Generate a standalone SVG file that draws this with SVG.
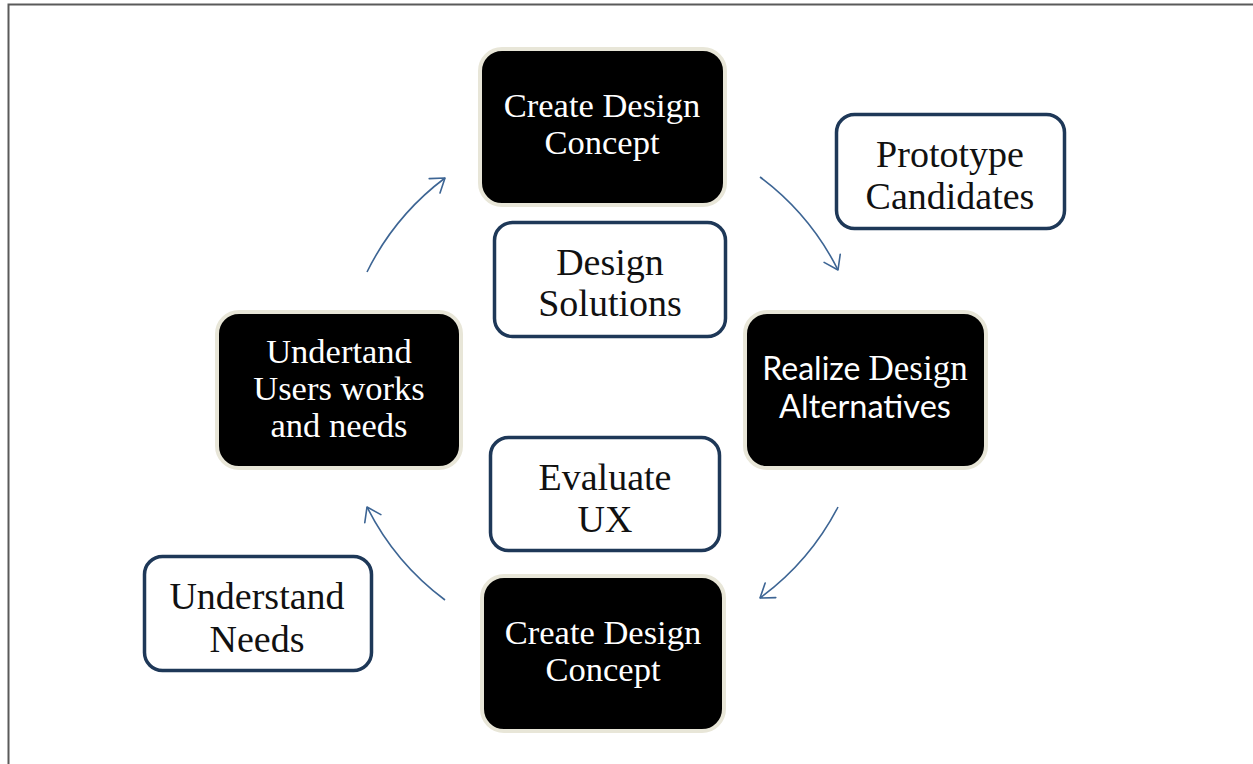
<svg xmlns="http://www.w3.org/2000/svg" width="1253" height="764" viewBox="0 0 1253 764">
  <style>
    .frame { stroke: #5a5a5a; stroke-width: 2; fill: none; }
    .step { fill: #000000; stroke: #e8e6d8; stroke-width: 4; }
    .note { fill: #ffffff; stroke: #1e3858; stroke-width: 3.5; }
    .serif { font-family: "Liberation Serif", "Times New Roman", serif; }
    .sans { font-family: Lato, "Liberation Sans", sans-serif; }
    .mid { text-anchor: middle; }
    .light { fill: #ffffff; }
    .dark { fill: #111111; }
    .big { font-size: 34.5px; }
    .flow { fill: none; stroke: #3d6594; stroke-width: 1.6; marker-end: url(#head); }
  </style>
  <defs>
    <marker id="head" markerUnits="userSpaceOnUse" markerWidth="30" markerHeight="30" refX="0" refY="0" viewBox="-20 -15 30 30" orient="auto" overflow="visible">
      <path d="M -13 -9 L 0 0 L -13 9" fill="none" stroke="#3d6594" stroke-width="1.6" stroke-linecap="round" stroke-linejoin="round"/>
    </marker>
  </defs>

  <rect width="1253" height="764" fill="#ffffff"/>
  <path class="frame" d="M 8.5 764 L 8.5 4.5 L 1253 4.5"/>

  <!-- cycle connectors: arcs of one circle around the centre -->
  <g id="connectors">
    <path class="flow" d="M 367 272 A 263 263 0 0 1 445 178"/>
    <path class="flow" d="M 760 177 A 263 263 0 0 1 838 270"/>
    <path class="flow" d="M 838 507 A 263 263 0 0 1 760 598"/>
    <path class="flow" d="M 445 600 A 263 263 0 0 1 367 507"/>
  </g>

  <g id="create-concept-top">
    <rect class="step" x="480" y="49" width="245" height="156" rx="22"/>
    <text class="serif light mid big" x="602" y="117">Create Design</text>
    <text class="serif light mid big" x="602" y="154">Concept</text>
  </g>

  <g id="realize-alternatives">
    <rect class="step" x="745" y="312" width="241" height="156" rx="22"/>
    <text class="light mid" font-size="32" x="865" y="380"><tspan class="sans">Realize </tspan><tspan class="serif" font-size="35">Design</tspan></text>
    <text class="sans light mid" font-size="32.5" x="865" y="418">Alternatives</text>
  </g>

  <g id="understand-users">
    <rect class="step" x="217" y="312" width="244" height="156" rx="22"/>
    <text class="serif light mid big" x="339" y="363">Undertand</text>
    <text class="serif light mid big" x="339" y="400">Users works</text>
    <text class="serif light mid big" x="339" y="437">and needs</text>
  </g>

  <g id="create-concept-bottom">
    <rect class="step" x="482" y="576" width="242" height="155" rx="22"/>
    <text class="serif light mid big" x="603" y="644">Create Design</text>
    <text class="serif light mid big" x="603" y="681">Concept</text>
  </g>

  <g id="prototype-candidates">
    <rect class="note" x="836.5" y="114.5" width="228" height="114" rx="18"/>
    <text class="serif dark mid" font-size="38" x="950" y="167">Prototype</text>
    <text class="serif dark mid" font-size="38" x="950" y="209">Candidates</text>
  </g>

  <g id="design-solutions">
    <rect class="note" x="494.5" y="222.5" width="231" height="114" rx="18"/>
    <text class="serif dark mid" font-size="38" x="610" y="275">Design</text>
    <text class="serif dark mid" font-size="38" x="610" y="316">Solutions</text>
  </g>

  <g id="evaluate-ux">
    <rect class="note" x="490.5" y="437.5" width="229" height="113" rx="18"/>
    <text class="serif dark mid" font-size="38" x="605" y="490">Evaluate</text>
    <text class="serif dark mid" font-size="38" x="605" y="532">UX</text>
  </g>

  <g id="understand-needs">
    <rect class="note" x="144.5" y="556.5" width="227" height="114" rx="18"/>
    <text class="serif dark mid" font-size="38" x="257" y="609">Understand</text>
    <text class="serif dark mid" font-size="38" x="257" y="652">Needs</text>
  </g>
</svg>
